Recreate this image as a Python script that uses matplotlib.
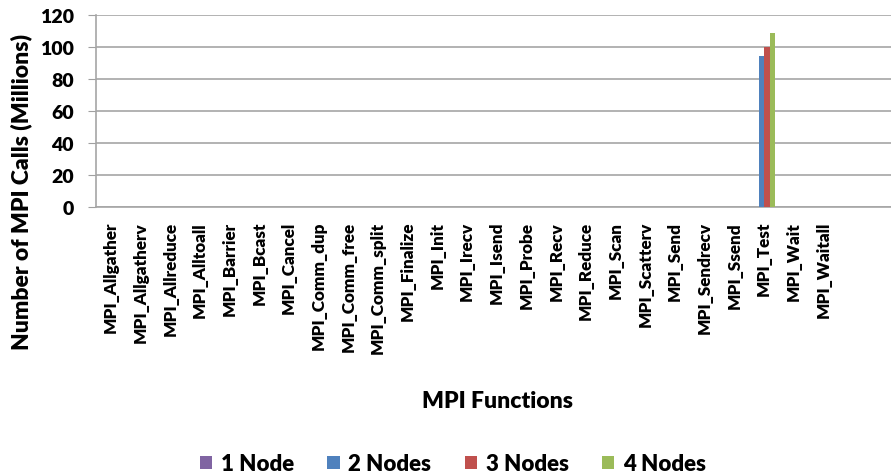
import numpy as np
import matplotlib
matplotlib.use('Agg')
import matplotlib.pyplot as plt

plt.rcParams['font.family'] = ['Lato', 'DejaVu Sans']
plt.rcParams['font.weight'] = 'heavy'

functions = ['MPI_Allgather', 'MPI_Allgatherv', 'MPI_Allreduce', 'MPI_Alltoall',
             'MPI_Barrier', 'MPI_Bcast', 'MPI_Cancel', 'MPI_Comm_dup',
             'MPI_Comm_free', 'MPI_Comm_split', 'MPI_Finalize', 'MPI_Init',
             'MPI_Irecv', 'MPI_Isend', 'MPI_Probe', 'MPI_Recv', 'MPI_Reduce',
             'MPI_Scan', 'MPI_Scatterv', 'MPI_Send', 'MPI_Sendrecv', 'MPI_Ssend',
             'MPI_Test', 'MPI_Wait', 'MPI_Waitall']

# calls in millions, only MPI_Test is visible
node1 = [0] * 25
node2 = [0] * 22 + [94.6] + [0] * 2
node3 = [0] * 22 + [99.8] + [0] * 2
node4 = [0] * 22 + [108.5] + [0] * 2

series = [('1 Node', node1, '#8064A2'),
          ('2 Nodes', node2, '#4F81BD'),
          ('3 Nodes', node3, '#C0504D'),
          ('4 Nodes', node4, '#9BBB59')]

fig = plt.figure(figsize=(8.91, 4.77), dpi=100)
ax = fig.add_axes([96 / 891, 1 - 208 / 477, 795 / 891, 192 / 477])

x = np.arange(len(functions))
w = 0.185
for i, (name, vals, col) in enumerate(series):
    ax.bar(x + (i - 1.5) * w, vals, width=w, color=col, label=name, zorder=3)

ax.set_ylim(0, 120)
ax.set_yticks(range(0, 121, 20))
ax.set_xlim(-0.5, -0.5 + 795 / 29.7)
ax.set_xticks(x)
ax.set_xticklabels(functions, rotation=90, fontsize=12.3, fontweight='heavy')
ax.tick_params(axis='y', labelsize=14, length=6, color='#a0a0a0', pad=10)
ax.tick_params(axis='x', length=0, pad=10)
ax.grid(axis='y', color='#a6a6a6', lw=1.2, zorder=0)
for s in ['top', 'right']:
    ax.spines[s].set_visible(False)
ax.spines['left'].set_color('#a6a6a6')
ax.spines['bottom'].set_color('#a6a6a6')
ax.spines['left'].set_linewidth(1.2)
ax.spines['bottom'].set_linewidth(1.2)

fig.text(21 / 891, 1 - 192 / 477, 'Number of MPI Calls (Millions)', rotation=90,
         ha='center', va='center', fontsize=16.5, fontweight='heavy')
fig.text(497 / 891, 1 - 402 / 477, 'MPI Functions', ha='center', va='center',
         fontsize=16.5, fontweight='heavy')

fig.legend(loc='center', bbox_to_anchor=(453 / 891, 1 - 465 / 477), ncol=4, frameon=False,
           fontsize=16, handlelength=0.55, handleheight=0.55, handletextpad=0.4,
           columnspacing=1.5)

fig.savefig('out.png', dpi=100)
